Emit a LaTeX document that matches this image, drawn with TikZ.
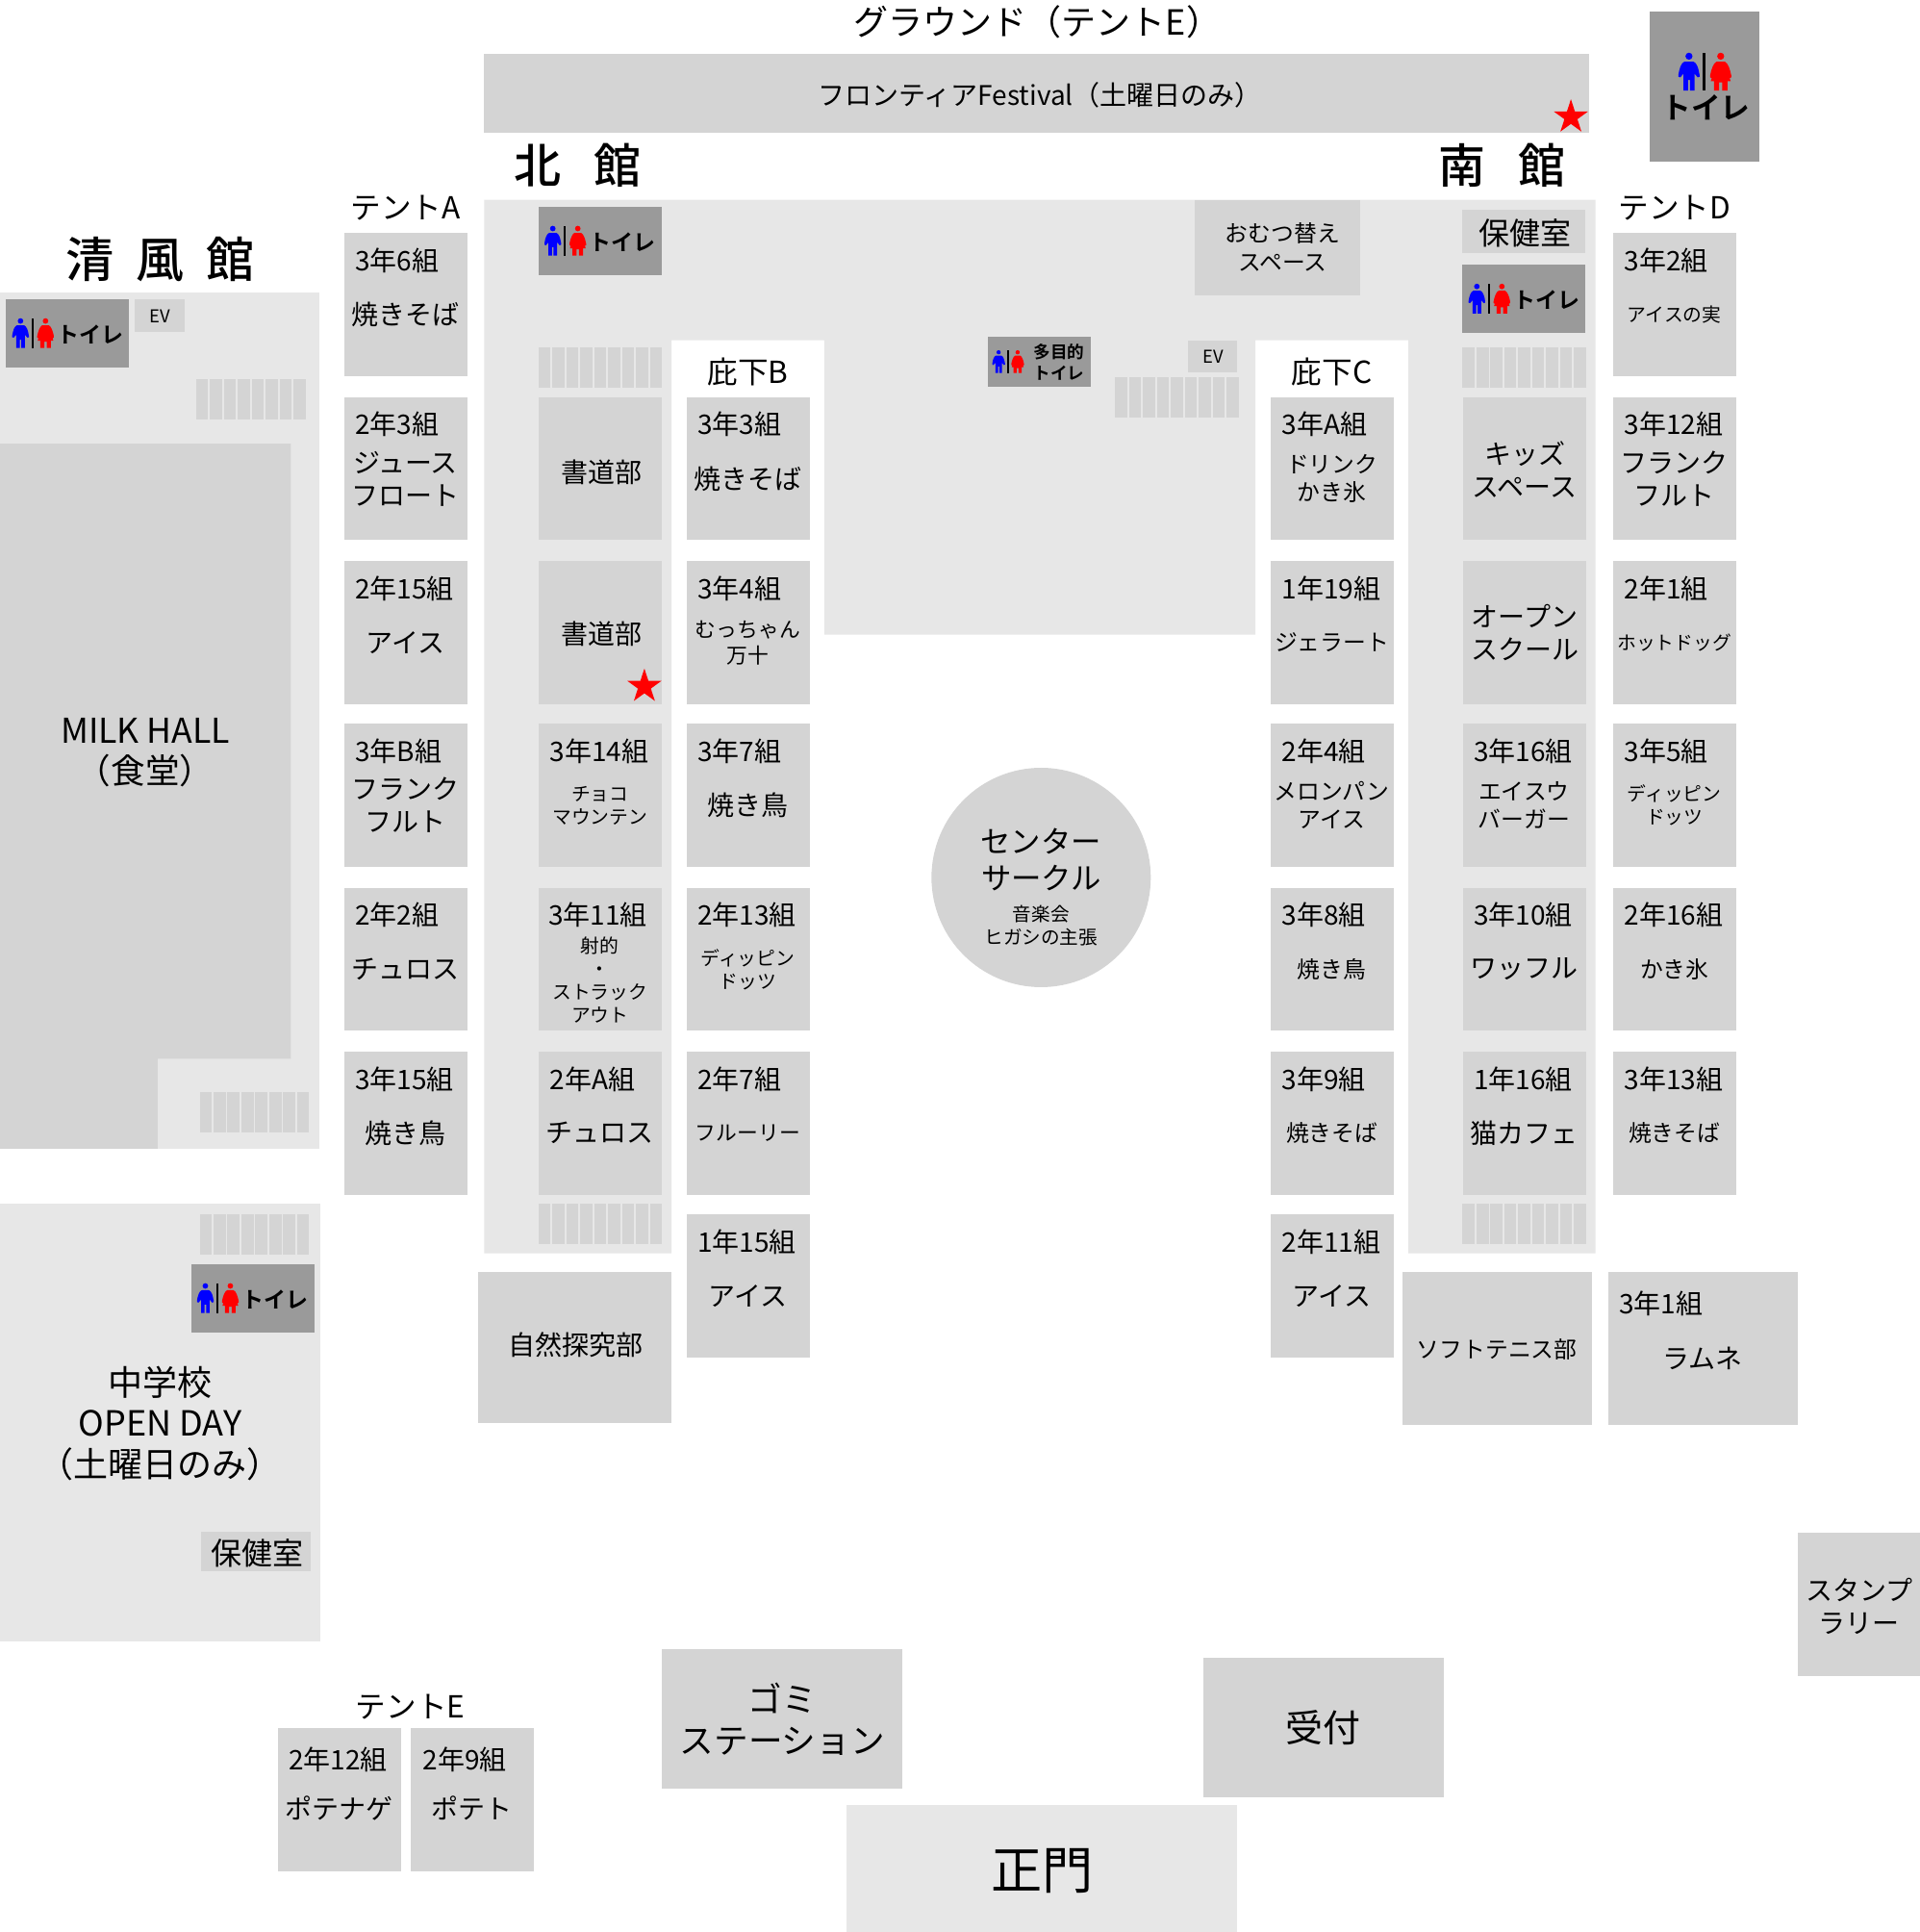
\documentclass[tikz,border=0pt]{standalone}
\usepackage{fontspec}
\setmainfont{Noto Sans CJK JP}[BoldFont={Noto Sans CJK JP Medium}]
\newfontfamily\wcfont{Noto Sans CJK JP Bold}
\usetikzlibrary{shapes.geometric}
\definecolor{floorgray}{HTML}{E7E7E7}
\definecolor{boxgray}{HTML}{D4D4D4}
\definecolor{wcgray}{HTML}{9A9A9A}
\tikzset{
    boothbox/.style={fill=boxgray, inner sep=0pt, anchor=north west,
        minimum width=64.05pt, minimum height=74.3pt},
    boothtitle/.style={anchor=west, inner sep=0pt, font=\fontsize{14}{17}\selectfont},
    itemL/.style={align=center, inner sep=0pt, font=\fontsize{14}{17}\selectfont},
    itemM/.style={align=center, inner sep=0pt, font=\fontsize{11.9}{14.6}\selectfont},
    itemF/.style={align=center, inner sep=0pt, font=\fontsize{10.9}{13.4}\selectfont},
    itemS/.style={align=center, inner sep=0pt, font=\fontsize{9.9}{12}\selectfont},
    tentlabel/.style={align=center, inner sep=0pt, font=\fontsize{15.8}{19}\selectfont},
    hallname/.style={inner sep=0pt, font=\fontsize{24.5}{29}\bfseries\selectfont},
    wclabel/.style={inner sep=0pt, font=\fontsize{11.5}{13}\wcfont\selectfont},
    evlabel/.style={inner sep=0pt, font=\fontsize{9.2}{11}\selectfont},
    redstar/.style={star, star points=5, star point ratio=2.618, fill=red,
        inner sep=0pt, minimum size=18.6pt},
    toilet/.pic={
        \fill[black] (-4,0) rectangle (4,117);
        \fill[blue] (-48,10) circle (11);
        \fill[blue] (-62,27) -- (-34,27) .. controls (-24,30) and (-18,48) .. (-15,68)
            -- (-15,74) -- (-21,76) -- (-31,64) -- (-31,117) -- (-45,117) -- (-45,84)
            -- (-51,84) -- (-51,117) -- (-65,117) -- (-65,64) -- (-75,76) -- (-81,74)
            -- (-81,68) .. controls (-78,48) and (-72,30) .. (-62,27) -- cycle;
        \fill[red] (51,10) circle (11);
        \fill[red] (38,27) -- (64,27) .. controls (74,32) and (80,50) .. (84,70)
            -- (84,76) -- (79,78) -- (82,88) -- (72,88) -- (72,117) -- (56,117) -- (56,92)
            -- (46,92) -- (46,117) -- (30,117) -- (30,88) -- (20,88) -- (23,78) -- (18,76)
            -- (18,70) .. controls (22,50) and (28,32) .. (38,27) -- cycle;
    },
}
\newcommand{\booth}[6]{
    \node[boothbox] (#1) at (#2,#3) {};
    \node[boothtitle] (#1title) at (#2+9,#3+22.5) {#4};
    \node[#6] (#1body) at (#2+50,#3+66.5) {#5};
}
\newcommand{\racks}[3]{
    \foreach \k in {1,...,#3}
        \fill[boxgray] (#1+11.3*\k-11.3,#2) rectangle ++(9.9,32.8);
}
\newcommand{\wcbox}[3]{
    \fill[wcgray] (#2,#3) rectangle ++(100,55);
    \pic[scale=.205] (#1icon) at (#2+21.5,#3+15.4) {toilet};
    \node[wclabel] (#1text) at (#2+68.5,#3+28.5) {トイレ};
}

\begin{document}
\begin{tikzpicture}[x=0.6405pt, y=-0.6405pt]
\useasboundingbox (0,0) rectangle (1558.3,1567.7);

\fill[floorgray] (393,162) -- (1295,162) -- (1295,1017) -- (1143,1017) -- (1143,276)
    -- (1019,276) -- (1019,515) -- (669,515) -- (669,276) -- (545,276) -- (545,1017)
    -- (393,1017) -- cycle;
\fill[floorgray] (0,237) rectangle (259,932);
\fill[boxgray] (0,360) -- (236,360) -- (236,859) -- (128,859) -- (128,932) -- (0,932) -- cycle;
\fill[floorgray] (0,977) rectangle (260,1332);
\fill[floorgray] (687,1465) rectangle (1004,1568.4);

\node[font=\fontsize{18}{21}\selectfont, inner sep=0pt] (ground) at (842,17.5) {グラウンド（テントE）};
\fill[boxgray] (393,44) rectangle (1290,108);
\node[itemL] (frontier) at (844,77) {フロンティアFestival（土曜日のみ）};
\node[redstar] (starsouth) at (1275,95) {};

\node[hallname] (north) at (469,134.5) {北\hspace{17pt}館};
\node[hallname] (south) at (1219,134.5) {南\hspace{17pt}館};
\node[hallname, font=\fontsize{25}{30}\bfseries\selectfont] (seifu) at (130,210.5) {清\hspace{11.5pt}風\hspace{11.5pt}館};

\node[tentlabel] (tenta) at (329,168.5) {テントA};
\node[tentlabel] (tentd) at (1359,168.5) {テントD};
\node[tentlabel] (tente) at (333,1385) {テントE};
\node[tentlabel] (eavesb) at (607,302) {庇下B};
\node[tentlabel] (eavesc) at (1081,302) {庇下C};

\fill[wcgray] (1339,9) rectangle (1428,131);
\pic[scale=.26] (groundwcicon) at (1383.3,43) {toilet};
\node[inner sep=0pt, font=\fontsize{15.4}{18}\wcfont\selectfont] (groundwc) at (1384.6,87) {トイレ};

\wcbox{northwc}{437}{168}
\wcbox{southwc}{1187}{215}
\wcbox{seifuwc}{5}{243}
\wcbox{juniorwc}{155}{1026}

\fill[wcgray] (802,273) rectangle (885.5,314);
\pic[scale=.156] (multiwcicon) at (818,284.3) {toilet};
\node[inner sep=0pt, align=center, font=\fontsize{8.8}{11}\wcfont\selectfont] (multiwc) at (859.5,293.5) {多目的\\トイレ};

\fill[boxgray] (109,243) rectangle (150,269);
\node[evlabel] (evseifu) at (130,256.5) {EV};
\fill[boxgray] (964,276) rectangle (1004,302);
\node[evlabel] (evcenter) at (984.5,289.5) {EV};

\racks{159}{307.5}{8}
\racks{162}{886}{8}
\racks{162}{985}{8}
\racks{437}{282}{9}
\racks{437}{977}{9}
\racks{1187}{282}{9}
\racks{1187}{977}{9}
\racks{905}{306}{9}

\fill[boxgray] (970,162) rectangle (1104,240);
\node[itemM] (diaper) at (1041,200.5) {おむつ替え\\スペース};
\fill[boxgray] (1187,170) rectangle (1287,205);
\node[font=\fontsize{16}{19}\selectfont, inner sep=0pt] (nursesouth) at (1238,189) {保健室};

\booth{a1}{279}{189}{3年6組}{焼きそば}{itemL}
\booth{a2}{279}{322}{2年3組}{ジュース\\フロート}{itemL}
\booth{a3}{279}{455}{2年15組}{アイス}{itemL}
\booth{a4}{279}{587}{3年B組}{フランク\\フルト}{itemL}
\booth{a5}{279}{720}{2年2組}{チュロス}{itemL}
\booth{a6}{279}{853}{3年15組}{焼き鳥}{itemL}

\node[boothbox] (n1) at (437,322) {};
\node[itemL] (n1body) at (488.5,383) {書道部};
\node[boothbox] (n2) at (437,455) {};
\node[itemL] (n2body) at (488,514) {書道部};
\booth{n3}{437}{587}{3年14組}{チョコ\\マウンテン}{itemS}
\node[boothbox] (n4) at (437,720) {};
\node[boothtitle] (n4title) at (445,742.5) {3年11組};
\node[itemS] (n4body) at (487,795.5) {射的\\・\\ストラック\\アウト};
\booth{n5}{437}{853}{2年A組}{チュロス}{itemL}
\node[redstar] (starnorth) at (523,557) {};

\booth{b1}{557}{322}{3年3組}{焼きそば}{itemL}
\booth{b2}{557}{455}{3年4組}{むっちゃん\\万十}{itemF}
\booth{b3}{557}{587}{3年7組}{焼き鳥}{itemL}
\booth{b4}{557}{720}{2年13組}{ディッピン\\ドッツ}{itemS}
\booth{b5}{557}{853}{2年7組}{フルーリー}{itemF}
\booth{b6}{557}{985}{1年15組}{アイス}{itemL}

\booth{c1}{1031}{322}{3年A組}{ドリンク\\かき氷}{itemM}
\booth{c2}{1031}{455}{1年19組}{ジェラート}{itemM}
\booth{c3}{1031}{587}{2年4組}{メロンパン\\アイス}{itemM}
\booth{c4}{1031}{720}{3年8組}{焼き鳥}{itemM}
\booth{c5}{1031}{853}{3年9組}{焼きそば}{itemM}
\booth{c6}{1031}{985}{2年11組}{アイス}{itemL}

\node[boothbox] (s1) at (1187,322) {};
\node[itemL] (s1body) at (1237.5,381) {キッズ\\スペース};
\node[boothbox] (s2) at (1187,455) {};
\node[itemL] (s2body) at (1237.5,513.5) {オープン\\スクール};
\booth{s3}{1187}{587}{3年16組}{エイスウ\\バーガー}{itemM}
\booth{s4}{1187}{720}{3年10組}{ワッフル}{itemL}
\booth{s5}{1187}{853}{1年16組}{猫カフェ}{itemL}

\booth{d1}{1309}{189}{3年2組}{アイスの実}{itemS}
\booth{d2}{1309}{322}{3年12組}{フランク\\フルト}{itemL}
\booth{d3}{1309}{455}{2年1組}{ホットドッグ}{itemS}
\booth{d4}{1309}{587}{3年5組}{ディッピン\\ドッツ}{itemS}
\booth{d5}{1309}{720}{2年16組}{かき氷}{itemM}
\booth{d6}{1309}{853}{3年13組}{焼きそば}{itemM}

\node[boothbox] (e1) at (225,1402) {};
\node[boothtitle] (e1title) at (234,1428) {2年12組};
\node[itemL] (e1body) at (275,1467) {ポテナゲ};
\node[boothbox] (e2) at (333,1402) {};
\node[boothtitle] (e2title) at (343,1428) {2年9組};
\node[itemL] (e2body) at (383,1467) {ポテト};

\node[itemL, font=\fontsize{17.8}{21}\selectfont] (milkhall) at (118,611) {MILK HALL\\（食堂）};
\node[itemL, font=\fontsize{18}{21.2}\selectfont] (junior) at (130,1155) {中学校\\OPEN DAY\\（土曜日のみ）};
\fill[boxgray] (163,1243) rectangle (252,1275);
\node[font=\fontsize{16}{19}\selectfont, inner sep=0pt] (nursejunior) at (208.5,1260) {保健室};

\node[circle, fill=boxgray, minimum size=114pt, inner sep=0pt] (centerstage) at (845,712) {};
\node[itemL, font=\fontsize{15.7}{19}\selectfont] (centerbig) at (845,697.5) {センター\\サークル};
\node[itemS, font=\fontsize{9.8}{12}\selectfont] (centersmall) at (845,751) {音楽会\\ヒガシの主張};

\fill[boxgray] (388,1032) rectangle (545,1155);
\node[itemL] (nature) at (467,1091) {自然探究部};
\fill[boxgray] (1138,1032) rectangle (1292,1156);
\node[itemM] (tennis) at (1215,1095) {ソフトテニス部};
\fill[boxgray] (1305,1032) rectangle (1459,1156);
\node[boothtitle] (y3c1title) at (1314,1058) {3年1組};
\node[itemL] (y3c1body) at (1382,1102) {ラムネ};

\fill[boxgray] (1459,1244) rectangle (1559,1360);
\node[itemL] (stamp) at (1509,1303) {スタンプ\\ラリー};
\fill[boxgray] (537,1338) rectangle (732,1451);
\node[itemL, font=\fontsize{17.8}{21.5}\selectfont] (garbage) at (635,1395) {ゴミ\\ステーション};
\fill[boxgray] (977,1345) rectangle (1172,1458);
\node[itemL, font=\fontsize{19.5}{23}\selectfont] (reception) at (1074,1402) {受付};
\node[itemL, font=\fontsize{26.6}{31}\selectfont] (maingate) at (846,1518) {正門};
\end{tikzpicture}
\end{document}
